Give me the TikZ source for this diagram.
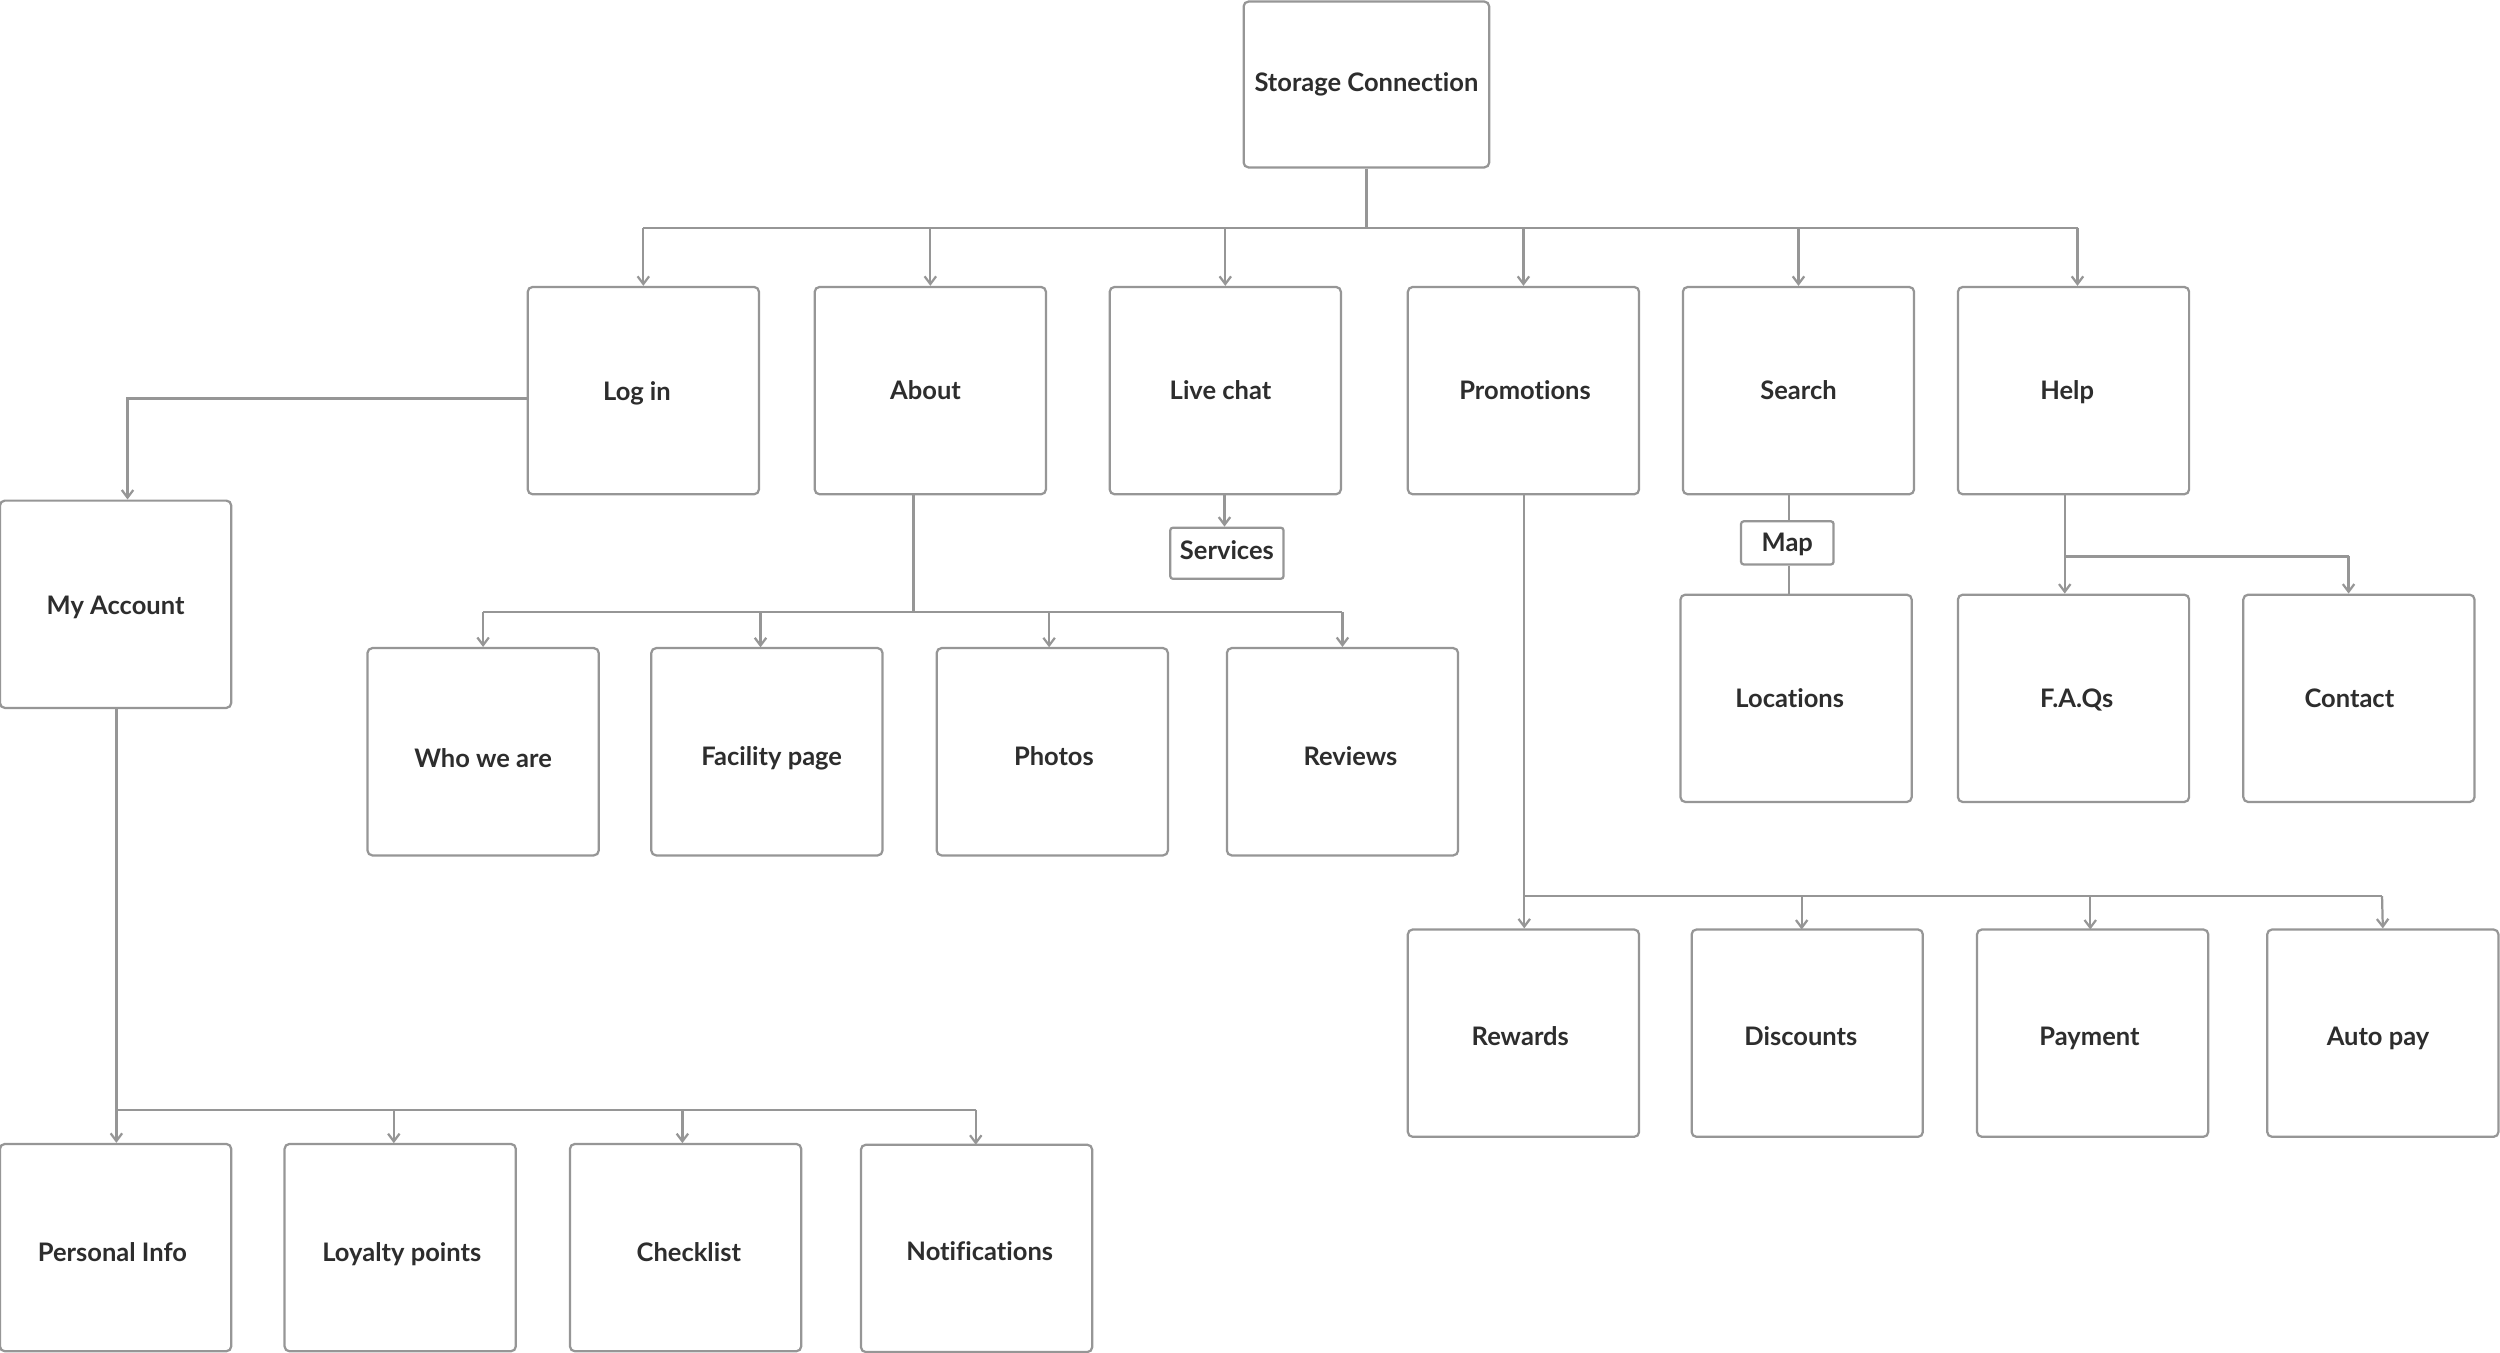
\documentclass[tikz,border=0pt]{standalone}
\usepackage{fontspec}
\setmainfont{Lato}[Ligatures=NoCommon]
\usetikzlibrary{arrows.meta,calc}
\definecolor{edgegray}{RGB}{150,150,150}
\definecolor{txt}{RGB}{45,45,45}
\begin{document}
\begin{tikzpicture}[x=0.5pt,y=-0.5pt,
  box/.style={draw=edgegray,line width=0.7pt,rounded corners=1.5pt,fill=white,
     minimum width=72.5pt,minimum height=65pt,inner sep=0pt},
  lbl/.style={font=\fontsize{8}{9.5}\selectfont\bfseries,text=txt,inner sep=0pt},
  tl/.style n args={3}{label={[lbl,xshift=#1*0.5pt,yshift=-#2*0.5pt]center:#3}},
  smallbox/.style={box,rounded corners=0.8pt},
  conn/.style={draw=edgegray,line width=0.7pt},
  arr/.style={conn,-{Straight Barb[length=2.4pt,width=3.6pt]}}]
\useasboundingbox (0,0) rectangle (1568,848.6);
% root
\node[box,minimum width=77pt,minimum height=52pt,tl={0}{0}{Storage Connection}] (root) at (857,53) {};
% level 1
\node[box,tl={-4}{2}{Log in}] (login) at (403.5,245) {};
\node[box,tl={-3}{0}{About}] (about) at (583.5,245) {};
\node[box,tl={-3}{0}{Live chat}] (chat) at (768.5,245) {};
\node[box,tl={1}{0}{Promotions}] (promo) at (955.5,245) {};
\node[box,tl={0}{0}{Search}] (search) at (1128,245) {};
\node[box,tl={-4}{1}{Help}] (help) at (1300.5,245) {};
% my account
\node[box,tl={0}{2}{My Account}] (myacc) at (72.5,379) {};
\node[box,tl={-2}{3}{Personal Info}] (pinfo) at (72.5,782.5) {};
\node[box,tl={1}{4}{Loyalty points}] (loyal) at (251,782.5) {};
\node[box,tl={2}{3}{Checklist}] (check) at (430,782.5) {};
\node[box,tl={2}{2}{Notifications}] (notif) at (612.5,783) {};
% about children
\node[box,tl={0}{4}{Who we are}] (who) at (303,471.5) {};
\node[box,tl={3}{4}{Facility page}] (facil) at (481,471.5) {};
\node[box,tl={1}{3}{Photos}] (photos) at (660,471.5) {};
\node[box,tl={5}{3}{Reviews}] (reviews) at (842,471.5) {};
% services
\node[smallbox,minimum width=35.5pt,minimum height=16pt,tl={0}{-2}{Services}] (serv) at (769.5,347) {};
% promotions children
\node[box,tl={-2}{2}{Rewards}] (rewards) at (955.5,648) {};
\node[box,tl={-4}{2}{Discounts}] (disc) at (1133.5,648) {};
\node[box,tl={-2}{3}{Payment}] (pay) at (1312.5,648) {};
\node[box,tl={-3}{3}{Auto pay}] (auto) at (1494.5,648) {};
% search children
\node[smallbox,minimum width=29pt,minimum height=13.5pt,tl={0}{1}{Map}] (map) at (1121,340.5) {};
\node[box,tl={-4}{0}{Locations}] (loc) at (1126.5,438) {};
% help children
\node[box,tl={2}{1}{F.A.Qs}] (faq) at (1300.5,438) {};
\node[box,tl={-6}{0}{Contact}] (contact) at (1479.5,438) {};

% root bus
\coordinate (rb) at (857,143);
\coordinate (hx) at (1303,0);
\draw[conn] (root.south) -- (rb);
\draw[conn] (login.north |- rb) -- (hx |- rb);
\foreach \n in {login,about,chat,promo,search}
  \draw[arr] (\n.north |- rb) -- (\n.north);
\draw[arr] (hx |- rb) -- (hx |- help.north);

% log in -> my account
\coordinate (la) at (80,250);
\draw[arr] (login.west |- la) -- (la) -- (la |- myacc.north);

% my account children
\coordinate (mb) at (73,696);
\draw[conn] (myacc.south -| mb) -- (mb) -- (612,696);
\draw[arr] (mb) -- (mb |- pinfo.north);
\draw[arr] (247,696) -- (247,717);
\draw[arr] (428,696) -- (428,717);
\draw[arr] (612,696) -- (612,718);

% about children
\coordinate (ab) at (573,384);
\draw[conn] (about.south -| ab) -- (ab);
\draw[conn] (303,384) -- (842,384);
\draw[arr] (303,384) -- (who.north);
\draw[arr] (477,384) -- (477,406);
\draw[arr] (658,384) -- (658,406);
\draw[arr] (842,384) -- (reviews.north);

% live chat -> services
\draw[arr] (768,310) -- (serv.north -| 768,0);

% promotions children
\coordinate (pb) at (956,562);
\draw[conn] (promo.south -| pb) -- (pb) -- (1494,562);
\draw[arr] (pb) -- (rewards.north -| pb);
\draw[arr] (1130,562) -- (1130,583);
\draw[arr] (1311,562) -- (1311,583);
\draw[arr] (1494,562) -- (auto.north);

% search -> map -> locations
\coordinate (sx) at (1122,0);
\draw[conn] (search.south -| sx) -- (map.north -| sx);
\draw[conn] (map.south -| sx) -- (loc.north -| sx);

% help children
\coordinate (hb) at (1295,349);
\draw[conn] (help.south -| hb) -- (hb) -- (1473,349);
\draw[arr] (hb) -- (faq.north -| hb);
\draw[arr] (1473,349) -- (contact.north -| 1473,0);
\end{tikzpicture}
\end{document}
